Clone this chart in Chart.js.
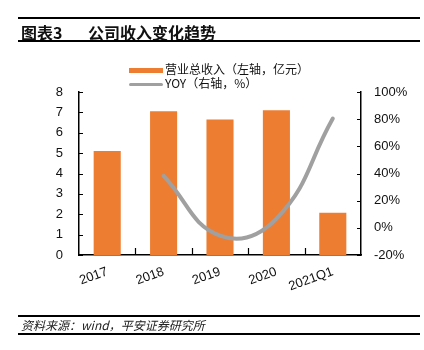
<!DOCTYPE html>
<html>
<head>
<meta charset="utf-8">
<script src="https://cdn.jsdelivr.net/npm/chart.js@4"></script>
<style>
    body { margin: 0; background: #fff; }
    #wrap { position: relative; width: 424px; height: 350px; overflow: hidden; }
    #chart { position: absolute; left: 0; top: 0; }
    .rule { position: absolute; left: 18px; width: 402px; background: #000; }
    .title { position: absolute; top: 22px; font: bold 16px "Noto Sans CJK SC", sans-serif; color: #111; line-height: 20px; }
    .leg { position: absolute; left: 129px; font: 12px "Noto Sans CJK SC", sans-serif; color: #111; line-height: 14px; }
    .leg i { display: inline-block; width: 34px; vertical-align: middle; margin-right: 2px; }
    .src { position: absolute; left: 21px; top: 317px; font: italic 12px "Noto Sans CJK SC", sans-serif; color: #222; line-height: 16px; }
</style>
</head>
<body>
<div id="wrap">
    <canvas id="chart" width="424" height="350"></canvas>
    <div class="rule" style="top:17px;height:1.5px"></div>
    <div class="title" style="left:21px">图表3</div>
    <div class="title" style="left:88px">公司收入变化趋势</div>
    <div class="rule" style="top:40px;height:2px"></div>
    <div class="leg" style="top:62px"><i style="height:5px;background:#ED7D31"></i>营业总收入（左轴，亿元）</div>
    <div class="leg" style="top:76px"><i style="height:3px;border-radius:2px;background:#A0A0A0"></i>YOY（右轴，%）</div>
    <div class="rule" style="top:315px;height:1.5px"></div>
    <div class="src">资料来源：wind，平安证券研究所</div>
    <div class="rule" style="top:333px;height:1.5px"></div>
</div>
<script>
// ==============================
// Datos
// ==============================
const categories = ['2017', '2018', '2019', '2020', '2021Q1'];
const revenue = [5.1, 7.05, 6.65, 7.1, 2.07];      // 亿元, eje izquierdo
const yoy = [null, 38.2, -5.7, 6.8, 80.5];          // %, eje derecho
const leftTicks = [0, 8, 1];
const rightTicks = [-20, 100, 20];

const tickFont = { family: '"Liberation Sans", Arial, sans-serif', size: 13 };

// marcas de eje hacia dentro
const inwardTicks = {
    id: 'inwardTicks',
    afterDatasetsDraw(chart) {
        const ctx = chart.ctx;
        const { x, y, y1 } = chart.scales;
        ctx.save();
        ctx.strokeStyle = '#000';
        ctx.lineWidth = 1.2;
        ctx.beginPath();
        y.ticks.forEach((t, i) => {
            const p = Math.round(y.getPixelForTick(i)) + 0.5;
            ctx.moveTo(y.right, p); ctx.lineTo(y.right + 4, p);
        });
        y1.ticks.forEach((t, i) => {
            const p = Math.round(y1.getPixelForTick(i)) + 0.5;
            ctx.moveTo(y1.left - 4, p); ctx.lineTo(y1.left, p);
        });
        for (let i = 1; i < categories.length; i++) {
            const p = Math.round(x.getPixelForValue(i - 0.5)) + 0.5;
            ctx.moveTo(p, x.top); ctx.lineTo(p, x.top - 7);
        }
        ctx.stroke();
        ctx.restore();
    }
};

new Chart(document.getElementById('chart'), {
    data: {
        labels: categories,
        datasets: [{
            type: 'line',
            label: 'YOY（右轴，%）',
            data: yoy,
            yAxisID: 'y1',
            borderColor: '#A0A0A0',
            borderWidth: 4,
            borderCapStyle: 'round',
            pointRadius: 0,
            tension: 0.45,
            order: 0
        }, {
            type: 'bar',
            label: '营业总收入（左轴，亿元）',
            data: revenue,
            yAxisID: 'y',
            backgroundColor: '#ED7D31',
            categoryPercentage: 1,
            barPercentage: 0.48,
            order: 1
        }]
    },
    options: {
        responsive: false,
        animation: false,
        layout: { padding: { top: 92, left: 0, right: 0, bottom: 0 } },
        plugins: { legend: { display: false }, tooltip: { enabled: false } },
        scales: {
            x: {
                grid: { display: false, drawTicks: false },
                border: { color: '#000', width: 1.5 },
                ticks: { font: tickFont, color: '#111', minRotation: 20, maxRotation: 20, padding: 9 },
                afterFit(s) { s.height = 95; }
            },
            y: {
                position: 'left',
                min: leftTicks[0], max: leftTicks[1],
                grid: { display: false, drawTicks: false },
                border: { color: '#000', width: 1.5 },
                ticks: { stepSize: leftTicks[2], font: tickFont, color: '#111', padding: 16 },
                afterFit(s) { s.width = 79; }
            },
            y1: {
                position: 'right',
                min: rightTicks[0], max: rightTicks[1],
                grid: { display: false, drawTicks: false },
                border: { color: '#000', width: 1.5 },
                ticks: { stepSize: rightTicks[2], font: tickFont, color: '#111', padding: 13, callback: v => v + '%' },
                afterFit(s) { s.width = 63; }
            }
        }
    },
    plugins: [inwardTicks]
});
</script>
</body>
</html>
